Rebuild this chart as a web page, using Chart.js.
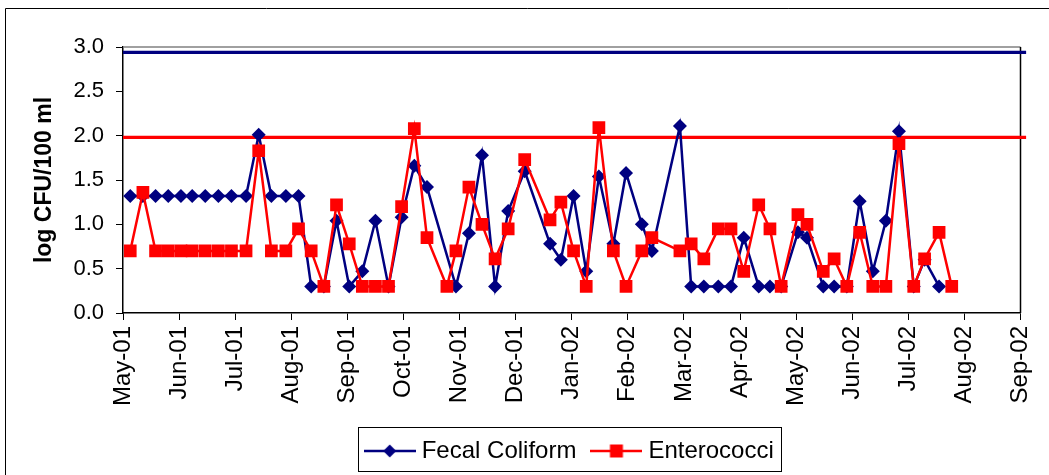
<!DOCTYPE html>
<html>
<head>
<meta charset="utf-8">
<script src="https://cdn.jsdelivr.net/npm/chart.js@4.4.1/dist/chart.umd.min.js"></script>
<style>
html,body{margin:0;padding:0;background:#fff;}
#wrap{width:1049px;height:475px;position:relative;}
</style>
</head>
<body>
<div id="wrap"><canvas id="c" width="1049" height="475"></canvas></div>
<script>
// ---- data ----
const monthLabels = ['May-01','Jun-01','Jul-01','Aug-01','Sep-01','Oct-01','Nov-01','Dec-01',
  'Jan-02','Feb-02','Mar-02','Apr-02','May-02','Jun-02','Jul-02','Aug-02','Sep-02'];
const yTickValues = [0, 0.5, 1.0, 1.5, 2.0, 2.5, 3.0];

const fecalDates = ['2001-05-05','2001-05-12','2001-05-19','2001-05-26',
  '2001-06-02','2001-06-08','2001-06-15','2001-06-22','2001-06-29',
  '2001-07-07','2001-07-14','2001-07-21','2001-07-29',
  '2001-08-05','2001-08-12','2001-08-19','2001-08-26',
  '2001-09-02','2001-09-09','2001-09-16','2001-09-23','2001-09-30',
  '2001-10-07','2001-10-14','2001-10-30',
  '2001-11-06','2001-11-13','2001-11-20','2001-11-27',
  '2001-12-06','2001-12-20','2001-12-26',
  '2002-01-02','2002-01-09','2002-01-16','2002-01-24','2002-01-31',
  '2002-02-08','2002-02-13','2002-02-27',
  '2002-03-05','2002-03-12','2002-03-20','2002-03-27',
  '2002-04-03','2002-04-11','2002-04-17','2002-04-23',
  '2002-05-02','2002-05-07','2002-05-16','2002-05-22','2002-05-29',
  '2002-06-05','2002-06-12','2002-06-19','2002-06-26',
  '2002-07-04','2002-07-10','2002-07-18'];
const fecalValues = [1.32,1.32,1.32,1.32,
  1.32,1.32,1.32,1.32,1.32,
  1.32,2.01,1.32,1.32,
  1.32,0.30,0.30,1.04,
  0.30,0.47,1.04,0.30,1.08,
  1.66,1.42,0.30,
  0.90,1.78,0.30,1.15,
  1.60,0.78,0.60,
  1.32,0.47,1.54,0.78,1.58,
  1.00,0.70,2.11,
  0.30,0.30,0.30,0.30,
  0.85,0.30,0.30,0.30,
  0.91,0.85,0.30,0.30,0.30,
  1.26,0.47,1.04,2.05,
  0.30,0.60,0.30];

const enteroDates = ['2001-05-05','2001-05-12','2001-05-19','2001-05-26',
  '2001-06-02','2001-06-08','2001-06-15','2001-06-22','2001-06-29',
  '2001-07-07','2001-07-14','2001-07-21','2001-07-29',
  '2001-08-05','2001-08-12','2001-08-19','2001-08-26',
  '2001-09-02','2001-09-09','2001-09-16','2001-09-23','2001-09-30',
  '2001-10-07','2001-10-14','2001-10-25','2001-10-30',
  '2001-11-06','2001-11-13','2001-11-20','2001-11-27',
  '2001-12-06','2001-12-20','2001-12-26',
  '2002-01-02','2002-01-09','2002-01-16','2002-01-24','2002-01-31',
  '2002-02-08','2002-02-13','2002-02-27',
  '2002-03-05','2002-03-12','2002-03-20','2002-03-27',
  '2002-04-03','2002-04-11','2002-04-17','2002-04-23',
  '2002-05-02','2002-05-07','2002-05-16','2002-05-22','2002-05-29',
  '2002-06-05','2002-06-12','2002-06-19','2002-06-26',
  '2002-07-04','2002-07-10','2002-07-18','2002-07-25'];
const enteroValues = [0.70,1.36,0.70,0.70,
  0.70,0.70,0.70,0.70,0.70,
  0.70,1.83,0.70,0.70,
  0.95,0.70,0.30,1.22,
  0.78,0.30,0.30,0.30,1.20,
  2.08,0.85,0.30,0.70,
  1.42,1.00,0.61,0.95,
  1.73,1.05,1.25,
  0.70,0.30,2.09,0.70,0.30,
  0.70,0.85,0.70,
  0.78,0.61,0.95,0.95,
  0.47,1.22,0.95,0.30,
  1.11,1.00,0.47,0.61,0.30,
  0.91,0.30,0.30,1.91,
  0.30,0.61,0.91,0.30];

const fecalLimit = 2.94;
const enteroLimit = 1.98;
const limitSpan = [0, 16.1];

// ---- helpers ----
const NAVY = '#000080', RED = '#FF0000';
const FONT = "'Liberation Sans', Arial, Helvetica, sans-serif";
function monthPos(s) {
  const [y, m, d] = s.split('-').map(Number);
  const dim = new Date(y, m, 0).getDate();
  return (y - 2001) * 12 + (m - 5) + (d - 1) / dim;
}
const toPoints = (dates, vals) => dates.map((d, i) => ({x: monthPos(d), y: vals[i]}));
const limitPoints = v => limitSpan.map(x => ({x, y: v}));

function legendIcon(color, style) {
  const c = document.createElement('canvas');
  c.width = 52; c.height = 20;
  const g = c.getContext('2d');
  g.strokeStyle = color; g.lineWidth = 2.5;
  g.beginPath(); g.moveTo(0, 10); g.lineTo(52, 10); g.stroke();
  g.fillStyle = color;
  g.beginPath();
  if (style === 'diamond') {
    g.moveTo(26, 3.5); g.lineTo(32.5, 10); g.lineTo(26, 16.5); g.lineTo(19.5, 10); g.closePath();
  } else {
    g.rect(19.5, 3.5, 13, 13);
  }
  g.fill();
  return c;
}
const iconFecal = legendIcon(NAVY, 'diamond');
const iconEntero = legendIcon(RED, 'square');

const framePlugin = {
  id: 'frame',
  beforeDraw(chart) {
    const ctx = chart.ctx;
    ctx.save();
    ctx.fillStyle = '#fff';
    ctx.fillRect(0, 0, chart.width, chart.height);
    ctx.strokeStyle = '#000'; ctx.lineWidth = 1;
    ctx.beginPath();
    ctx.moveTo(5.5, chart.height); ctx.lineTo(5.5, 8.5); ctx.lineTo(chart.width, 8.5);
    ctx.stroke();
    ctx.restore();
  },
  beforeDatasetsDraw(chart) {
    const {ctx, chartArea: a} = chart;
    ctx.save();
    ctx.lineWidth = 1.5;
    ctx.strokeStyle = '#808080';
    ctx.beginPath(); ctx.moveTo(a.left, a.top); ctx.lineTo(a.right, a.top); ctx.stroke();
    ctx.strokeStyle = '#000';
    ctx.beginPath(); ctx.moveTo(a.right, a.top); ctx.lineTo(a.right, a.bottom); ctx.stroke();
    ctx.restore();
  },
  afterLayout(chart) {
    const lg = chart.legend, a = chart.chartArea;
    if (!lg) return;
    const shift = (a.left + a.right) / 2 - (lg.left + lg.right) / 2;
    lg.left += shift; lg.right += shift;
    if (lg.adjustHitBoxes) lg.adjustHitBoxes();
  },
  afterDraw(chart) {
    const lg = chart.legend;
    if (!lg || !lg.legendHitBoxes || !lg.legendHitBoxes.length) return;
    const hb = lg.legendHitBoxes;
    const first = hb[0], last = hb[hb.length - 1];
    const ctx = chart.ctx;
    ctx.save();
    ctx.strokeStyle = '#000'; ctx.lineWidth = 1;
    const l = Math.round(first.left - 12) + 0.5;
    const r = Math.round(last.left + last.width + 7) + 0.5;
    const t = Math.round(lg.bottom - 46) + 0.5;
    const b = Math.round(lg.bottom - 2) + 0.5;
    ctx.strokeRect(l, t, r - l, b - t);
    ctx.restore();
  }
};

new Chart(document.getElementById('c'), {
  type: 'line',
  data: {
    datasets: [
      {label: 'Enterococci', data: toPoints(enteroDates, enteroValues), order: 1,
        borderColor: RED, backgroundColor: RED, borderWidth: 2.5,
        pointStyle: 'rect', pointRadius: 9, pointBorderWidth: 0, pointBackgroundColor: RED},
      {label: 'Fecal Coliform', data: toPoints(fecalDates, fecalValues), order: 2,
        borderColor: NAVY, backgroundColor: NAVY, borderWidth: 2.5,
        pointStyle: 'rectRot', pointRadius: 7, pointBorderWidth: 0, pointBackgroundColor: NAVY},
      {label: 'limitEntero', data: limitPoints(enteroLimit), order: 3, clip: false,
        borderColor: RED, borderWidth: 3.2, pointRadius: 0},
      {label: 'limitFecal', data: limitPoints(fecalLimit), order: 4, clip: false,
        borderColor: NAVY, borderWidth: 3.2, pointRadius: 0}
    ]
  },
  options: {
    responsive: false,
    devicePixelRatio: 1,
    animation: false,
    elements: {line: {tension: 0}},
    layout: {padding: {top: 47, right: 28.5, bottom: 2, left: 0}},
    plugins: {
      tooltip: {enabled: false},
      legend: {
        display: true,
        position: 'bottom',
        labels: {
          usePointStyle: true,
          pointStyleWidth: 40,
          padding: 20,
          color: '#000',
          font: {family: FONT, size: 24},
          generateLabels: () => [
            {text: 'Fecal Coliform', pointStyle: iconFecal, fillStyle: NAVY, strokeStyle: NAVY, lineWidth: 0, hidden: false, datasetIndex: 1, fontColor: '#000'},
            {text: 'Enterococci', pointStyle: iconEntero, fillStyle: RED, strokeStyle: RED, lineWidth: 0, hidden: false, datasetIndex: 0, fontColor: '#000'}
          ]
        }
      }
    },
    scales: {
      x: {
        type: 'linear',
        min: 0,
        max: monthLabels.length - 1,
        afterBuildTicks: s => { s.ticks = monthLabels.map((_, i) => ({value: i})); },
        afterFit: s => { s.height = 106; s.paddingLeft = 0; s.paddingRight = 0; },
        ticks: {
          autoSkip: false, maxRotation: 90, minRotation: 90, padding: 6,
          color: '#000', font: {family: FONT, size: 24},
          callback: v => monthLabels[v]
        },
        grid: {display: true, drawOnChartArea: false, drawTicks: true, tickLength: 7, color: '#000', lineWidth: 1},
        border: {display: true, color: '#000', width: 1.5}
      },
      y: {
        min: 0, max: 3,
        afterBuildTicks: s => { s.ticks = yTickValues.map(v => ({value: v})); },
        afterFit: s => { s.width = 123; },
        ticks: {color: '#000', padding: 12, font: {family: FONT, size: 22}, callback: v => Number(v).toFixed(1)},
        grid: {display: true, drawOnChartArea: false, drawTicks: true, tickLength: 7, color: '#000', lineWidth: 1},
        border: {display: true, color: '#000', width: 1.5},
        title: {display: true, text: 'log CFU/100 ml', color: '#000', padding: {top: 31, bottom: 0},
          font: {family: FONT, size: 23, weight: 'bold'}}
      }
    }
  },
  plugins: [framePlugin]
});
</script>
</body>
</html>
